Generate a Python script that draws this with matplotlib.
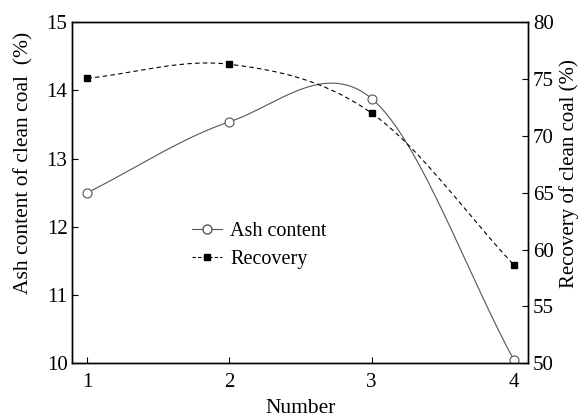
import matplotlib
matplotlib.use('Agg')
import matplotlib.pyplot as plt
import numpy as np

plt.rcParams['font.family'] = ['Liberation Serif', 'DejaVu Serif']

number = [1, 2, 3, 4]
ash_content = [12.50, 13.54, 13.88, 10.05]
recovery = [75.07, 76.30, 72.00, 58.65]


def smooth_line(x, y, n=60):
    # Catmull-Rom style hermite curve, only for drawing the connecting line
    x = np.asarray(x, float)
    y = np.asarray(y, float)
    m = np.empty_like(y)
    m[1:-1] = (y[2:] - y[:-2]) / (x[2:] - x[:-2])
    m[0] = (y[1] - y[0]) / (x[1] - x[0])
    m[-1] = (y[-1] - y[-2]) / (x[-1] - x[-2])
    xs_all, ys_all = [], []
    for i in range(len(x) - 1):
        h = x[i + 1] - x[i]
        t = np.linspace(0, 1, n)
        h00 = 2 * t**3 - 3 * t**2 + 1
        h10 = t**3 - 2 * t**2 + t
        h01 = -2 * t**3 + 3 * t**2
        h11 = t**3 - t**2
        xs_all.append(x[i] + t * h)
        ys_all.append(h00 * y[i] + h10 * h * m[i] + h01 * y[i + 1] + h11 * h * m[i + 1])
    return np.concatenate(xs_all), np.concatenate(ys_all)


fig, ax = plt.subplots(figsize=(5.79, 4.19), dpi=100)
fig.subplots_adjust(left=0.125, right=0.912, top=0.947, bottom=0.133)
ax2 = ax.twinx()

xs, ys = smooth_line(number, ash_content)
ax.plot(xs, ys, color='#555555', lw=0.8)
ax.plot(number, ash_content, 'o', ms=6.5, mfc='white', mec='#555555', mew=0.8)

xs, ys = smooth_line(number, recovery)
ax2.plot(xs, ys, color='black', lw=0.8, ls=(0, (4, 3)))
ax2.plot(number, recovery, 's', ms=5, color='black')

# legend handles
ax.plot([], [], color='#555555', lw=0.8, marker='o', ms=6.5, mfc='white',
        mec='#555555', label='Ash content')
ax.plot([], [], color='black', lw=0.8, ls=(0, (3, 2)), marker='s', ms=5,
        label='Recovery')
ax.legend(loc='center left', bbox_to_anchor=(0.223, 0.345), frameon=False,
          fontsize=14.5, handlelength=1.5, handletextpad=0.4, labelspacing=0.45)

ax.set_xlim(0.895, 4.1)
ax.set_ylim(10, 15)
ax2.set_ylim(50, 80)
ax.set_xticks(number)
ax.set_yticks([10, 11, 12, 13, 14, 15])
ax2.set_yticks([50, 55, 60, 65, 70, 75, 80])

for a in (ax, ax2):
    a.tick_params(direction='in', length=4, width=0.8, labelsize=15)
    for s in a.spines.values():
        s.set_linewidth(1.0)
ax.tick_params(axis='x', pad=7)

ax.set_xlabel('Number', fontsize=15.5, labelpad=5)
ax.set_ylabel('Ash content of clean coal  (%)', fontsize=15.5)
ax2.set_ylabel('Recovery of clean coal (%)', fontsize=15)
ax.yaxis.set_label_coords(-0.085, 0.589)
ax2.yaxis.set_label_coords(1.068, 0.557)

fig.savefig('out.png', dpi=100)
